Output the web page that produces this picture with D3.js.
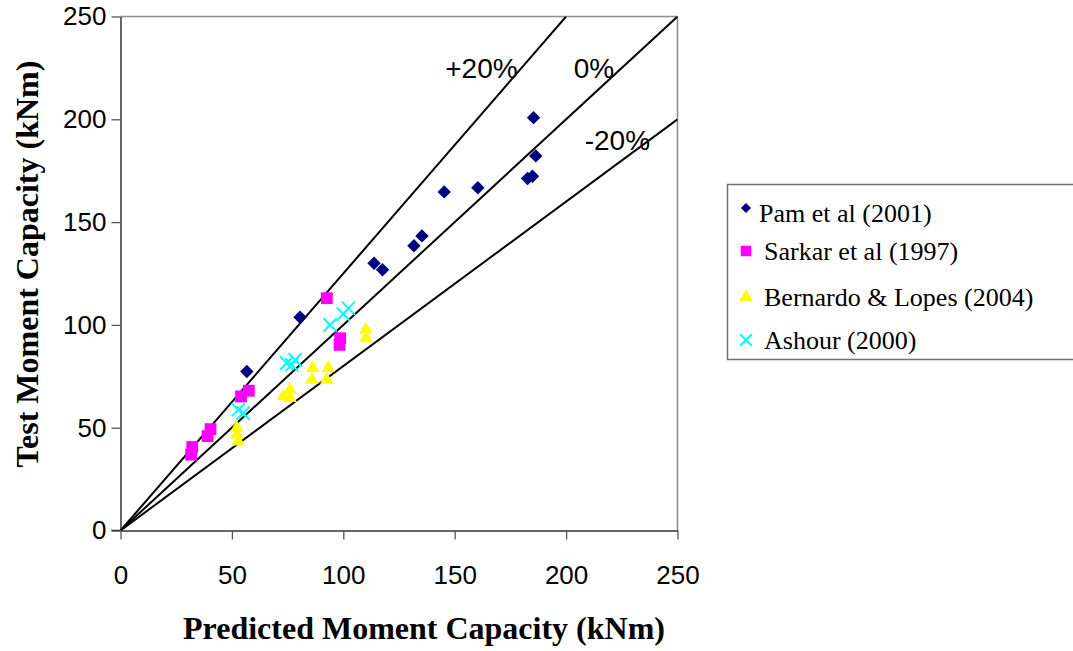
<!DOCTYPE html>
<html>
<head>
<meta charset="utf-8">
<script src="https://cdn.jsdelivr.net/npm/d3@7"></script>
<style>
  body { margin: 0; background: #fff; }
  svg { display: block; }
</style>
</head>
<body>
<div id="chart"></div>
<script>
// data: [predicted, test] in kNm
const pam = [
    [56.7, 77.3], [80.6, 103.7], [113.8, 130.0], [117.6, 126.8],
    [131.7, 138.5], [135.3, 143.3], [145.3, 164.7], [160.4, 166.7],
    [182.7, 171.2], [184.9, 172.3], [186.4, 182.2], [185.4, 200.8]
];
const sarkar = [
    [92.6, 113.0], [98.6, 93.5], [98.3, 90.3], [57.6, 68.0], [54.1, 65.2],
    [40.4, 49.3], [39.1, 45.9], [32.2, 40.6], [31.7, 36.9]
];
const bernardo = [
    [110.2, 97.6], [110.2, 93.5], [86.3, 79.0], [85.9, 73.3], [93.3, 79.0],
    [92.6, 73.3], [76.1, 68.4], [73.1, 65.2], [76.1, 64.4], [52.2, 49.9],
    [52.2, 46.6], [52.9, 43.3]
];
const ashour = [
    [102.3, 108.1], [100.0, 105.2], [94.1, 100.0], [74.6, 81.4],
    [78.4, 83.0], [76.9, 80.6], [52.9, 58.7], [55.1, 57.1]
];
const seriesNames = ['Pam et al (2001)', 'Sarkar et al (1997)', 'Bernardo & Lopes (2004)', 'Ashour (2000)'];
const tickValues = [0, 50, 100, 150, 200, 250];
// reference lines: slope and where the label sits
const refLines = [
    { slope: 1.25, label: '+20%', lx: 162, ly: 220 },
    { slope: 1.0, label: '0%', lx: 212.5, ly: 220 },
    { slope: 0.8, label: '-20%', lx: 223, ly: 185 }
];

const width = 1073, height = 651;
const svg = d3.select('#chart').append('svg')
    .attr('width', width)
    .attr('height', height);

const x = d3.scaleLinear().domain([0, 250]).range([120.5, 677.5]);
const y = d3.scaleLinear().domain([0, 250]).range([530.5, 16.5]);

// gray frame top/right
svg.append('path')
    .attr('d', `M${x(0)},${y(250)}H${x(250)}V${y(0)}`)
    .attr('fill', 'none')
    .attr('stroke', '#8c8c8c')
    .attr('stroke-width', 1.5);

const xAxis = svg.append('g')
    .attr('transform', `translate(0,${y(0)})`)
    .call(d3.axisBottom(x).tickValues(tickValues).tickSize(9).tickSizeOuter(0).tickPadding(26));
const yAxis = svg.append('g')
    .attr('transform', `translate(${x(0)},0)`)
    .call(d3.axisLeft(y).tickValues(tickValues).tickSize(9).tickSizeOuter(0).tickPadding(5));

[xAxis, yAxis].forEach(g => {
    g.select('.domain').attr('stroke', '#333').attr('stroke-width', 1.5);
    g.selectAll('.tick line').attr('stroke', '#555').attr('stroke-width', 1.3);
    g.selectAll('.tick text')
        .attr('font-family', 'Liberation Sans, Arial, sans-serif')
        .attr('font-size', 26)
        .attr('fill', '#000');
});
// the x axis line pokes out left of the y axis
svg.append('line')
    .attr('x1', x(0) - 9).attr('x2', x(0))
    .attr('y1', y(0)).attr('y2', y(0))
    .attr('stroke', '#333').attr('stroke-width', 1.5);

// reference lines
svg.append('clipPath').attr('id', 'plotclip')
    .append('rect')
    .attr('x', x(0)).attr('y', y(250))
    .attr('width', x(250) - x(0)).attr('height', y(0) - y(250));

svg.append('g')
    .attr('clip-path', 'url(#plotclip)')
    .selectAll('line')
    .data(refLines)
    .enter()
    .append('line')
    .attr('x1', x(0))
    .attr('y1', y(0))
    .attr('x2', d => x(250 / Math.max(d.slope, 1)))
    .attr('y2', d => y(250 * Math.min(d.slope, 1)))
    .attr('stroke', '#000')
    .attr('stroke-width', 2);

svg.append('g')
    .selectAll('text')
    .data(refLines)
    .enter()
    .append('text')
    .attr('x', d => x(d.lx))
    .attr('y', d => y(d.ly))
    .attr('text-anchor', 'middle')
    .attr('font-family', 'Liberation Sans, Arial, sans-serif')
    .attr('font-size', 28)
    .text(d => d.label);

// markers
const diamond = d3.symbol().type(d3.symbolDiamond2).size(115);
const square = d3.symbol().type(d3.symbolSquare).size(140);
const triangle = d3.symbol().type(d3.symbolTriangle).size(80);
const cross = d3.symbol().type(d3.symbolTimes).size(115);

const markers = [
    { data: pam, shape: diamond, fill: '#000080', stroke: 'none' },
    { data: sarkar, shape: square, fill: '#ff00ff', stroke: 'none' },
    { data: bernardo, shape: triangle, fill: '#ffff00', stroke: 'none' },
    { data: ashour, shape: cross, fill: 'none', stroke: '#00ffff' }
];

markers.forEach(m => {
    svg.append('g')
        .selectAll('path')
        .data(m.data)
        .enter()
        .append('path')
        .attr('d', m.shape)
        .attr('transform', d => `translate(${x(d[0])},${y(d[1])})`)
        .attr('fill', m.fill)
        .attr('stroke', m.stroke)
        .attr('stroke-width', 2);
});

// axis titles
svg.append('text')
    .attr('x', 424)
    .attr('y', 639)
    .attr('text-anchor', 'middle')
    .attr('font-family', 'Liberation Serif, Times New Roman, serif')
    .attr('font-weight', 'bold')
    .attr('font-size', 32)
    .text('Predicted Moment Capacity (kNm)');

svg.append('text')
    .attr('transform', 'translate(38,264) rotate(-90)')
    .attr('text-anchor', 'middle')
    .attr('font-family', 'Liberation Serif, Times New Roman, serif')
    .attr('font-weight', 'bold')
    .attr('font-size', 32)
    .text('Test Moment Capacity (kNm)');

// legend
const legend = svg.append('g');
legend.append('rect')
    .attr('x', 727.5).attr('y', 184.5)
    .attr('width', 360).attr('height', 175)
    .attr('fill', '#fff')
    .attr('stroke', '#707070')
    .attr('stroke-width', 1.5);

const legendY = [208, 251, 297, 340];
const legendShapes = [
    d3.symbol().type(d3.symbolDiamond2).size(65),
    d3.symbol().type(d3.symbolSquare).size(110),
    d3.symbol().type(d3.symbolTriangle).size(80),
    d3.symbol().type(d3.symbolTimes).size(90)
];
const legendItems = legend.selectAll('g.item')
    .data(markers)
    .enter()
    .append('g')
    .attr('class', 'item')
    .attr('transform', (d, i) => `translate(746,${legendY[i]})`);

legendItems.append('path')
    .attr('d', (d, i) => legendShapes[i]())
    .attr('fill', d => d.fill)
    .attr('stroke', d => d.stroke)
    .attr('stroke-width', 2);

legendItems.append('text')
    .attr('x', (d, i) => i === 0 ? 13 : 18)
    .attr('y', (d, i) => i === 0 ? 14 : 9)
    .attr('font-family', 'Liberation Serif, Times New Roman, serif')
    .attr('font-size', 26)
    .text((d, i) => seriesNames[i]);
</script>
</body>
</html>
